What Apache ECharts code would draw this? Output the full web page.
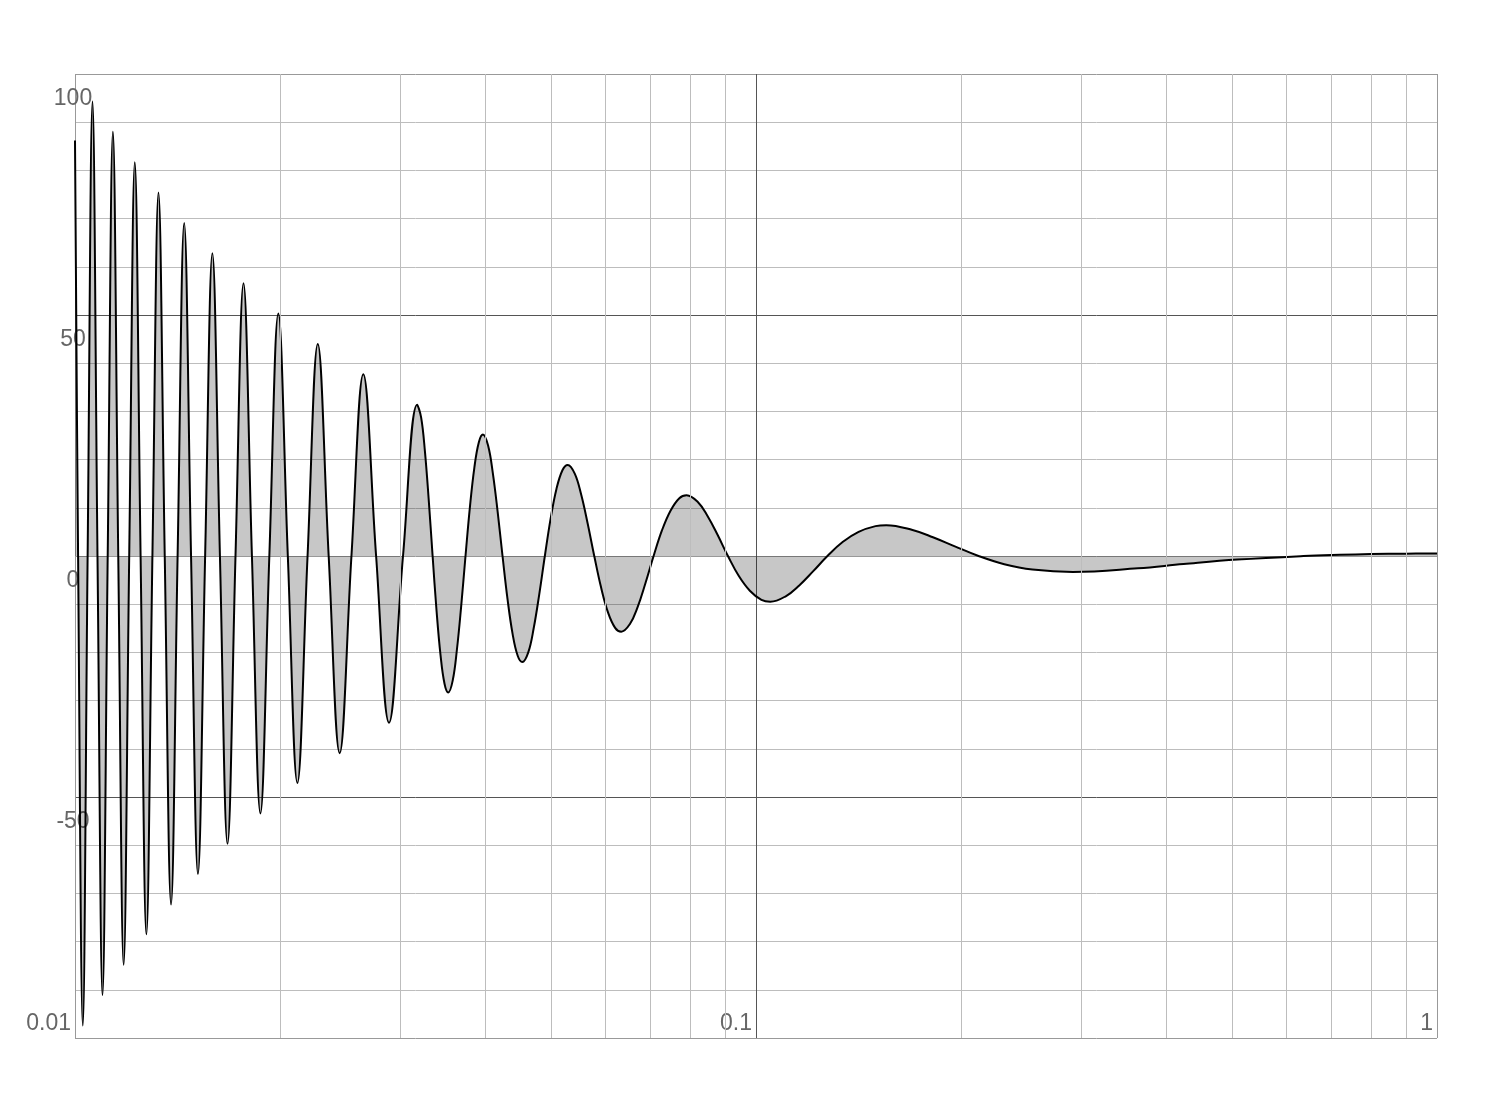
<!DOCTYPE html>
<html>
<head>
<meta charset="utf-8">
<script src="https://cdn.jsdelivr.net/npm/echarts@6/dist/echarts.min.js"></script>
<style>
html,body{margin:0;padding:0;background:#fff;}
#chart{width:1512px;height:1114px;}
</style>
</head>
<body>
<div id="chart"></div>
<script>
// Values: x positions (log axis) and y values of the curve
const curveX = [
  0.01, 0.010105, 0.010267, 0.010436, 0.010609, 0.010790, 0.010975, 0.011169, 0.011367, 0.011575,
  0.011788, 0.012012, 0.012241, 0.012483, 0.012730, 0.012992, 0.013261, 0.013545, 0.013837, 0.014147,
  0.014466, 0.014805, 0.015154, 0.015527, 0.015912, 0.016324, 0.016748, 0.017206, 0.017678, 0.018189,
  0.018718, 0.019292, 0.019886, 0.020536, 0.021211, 0.021953, 0.022725, 0.023578, 0.024471, 0.025465,
  0.026507, 0.027679, 0.028913, 0.030315, 0.031799,
  0.032234, 0.032647, 0.033071, 0.033506, 0.033953, 0.034412, 0.034883, 0.035324,
  0.035866, 0.036378, 0.036905, 0.037448, 0.038007, 0.038583, 0.039176, 0.039726,
  0.040420, 0.041072, 0.041745, 0.042441, 0.043161, 0.043905, 0.044675, 0.045379,
  0.046300, 0.047157, 0.048047, 0.048971, 0.049931, 0.050930, 0.051969, 0.052903,
  0.054181, 0.055359, 0.056589, 0.057874, 0.059220, 0.060630, 0.062109, 0.063407,
  0.065294, 0.067013, 0.068823, 0.070736, 0.072757, 0.074896, 0.077166, 0.079081,
  0.082144, 0.084883, 0.087810, 0.090946, 0.094314, 0.097942, 0.10186, 0.10494,
  0.11072, 0.11575, 0.12126, 0.12732, 0.13402, 0.14147, 0.14979, 0.15534,
  0.16977, 0.18189, 0.19588, 0.21221, 0.23150, 0.25465, 0.29192,
  0.36378, 0.42441, 0.50930, 0.63662, 0.72, 0.8, 0.9, 1
];
const curveY = [
  86.2, 0, -97.4, 0, 94.3, 0, -91.1, 0, 88.0, 0,
  -84.8, 0, 81.7, 0, -78.5, 0, 75.4, 0, -72.3, 0,
  69.1, 0, -66.0, 0, 62.8, 0, -59.7, 0, 56.6, 0,
  -53.4, 0, 50.3, 0, -47.1, 0, 44.0, 0, -40.9, 0,
  37.7, 0, -34.6, 0, 31.4,
  28.7, 21.7, 11.6, 0, -11.3, -20.5, -26.5, -28.3,
  -25.8, -19.4, -10.4, 0, 10.1, 18.3, 23.6, 25.2,
  22.9, 17.2, 9.2, 0, -8.9, -16.1, -20.7, -22.0,
  -20.0, -15.0, -8.0, 0, 7.7, 13.9, 17.8, 18.9,
  17.1, 12.8, 6.8, 0, -6.5, -11.7, -14.9, -15.7,
  -14.1, -10.6, -5.6, 0, 5.3, 9.4, 12.0, 12.6,
  11.2, 8.3, 4.4, 0, -4.1, -7.2, -9.1, -9.5,
  -8.3, -6.1, -3.2, 0, 2.9, 5.0, 6.2, 6.4,
  5.4, 3.9, 2.0, 0, -1.7, -2.8, -3.3,
  -2.54, -1.67, -0.75, 0, 0.25, 0.39, 0.49, 0.54
];
const xMinorGrid = [0.02, 0.03, 0.04, 0.05, 0.06, 0.07, 0.08, 0.09, 0.2, 0.3, 0.4, 0.5, 0.6, 0.7, 0.8, 0.9];
const yLabelValues = [100, 50, 0, -50];

const seriesData = curveX.map((x, i) => [x, curveY[i]]);

const chart = echarts.init(document.getElementById('chart'), null, {renderer: 'canvas'});
const labelFont = 'Liberation Sans, Arial, Helvetica, sans-serif';
chart.setOption({
  animation: false,
  backgroundColor: '#ffffff',
  grid: {left: 75, right: 75, top: 74, bottom: 76, containLabel: false},
  xAxis: {
    type: 'log', logBase: 10, min: 0.01, max: 1,
    axisLine: {show: false},
    axisTick: {show: false},
    splitLine: {show: true, lineStyle: {color: ['#999999', '#555555', '#999999'], width: 1}},
    axisLabel: {
      color: '#666666', fontSize: 23, fontFamily: labelFont,
      align: 'right', verticalAlign: 'middle', margin: -14, padding: [0, 4, 0, 0],
      formatter: v => String(v)
    }
  },
  yAxis: {
    type: 'value', min: -100, max: 100, interval: 50,
    axisLine: {show: false},
    axisTick: {show: false},
    splitLine: {show: true, lineStyle: {color: ['#999999', '#555555', '#999999', '#555555', '#999999'], width: 1}},
    minorTick: {show: false, splitNumber: 5},
    minorSplitLine: {show: true, lineStyle: {color: '#bdbdbd', width: 1}},
    axisLabel: {
      showMinLabel: false,
      color: '#666666', fontSize: 23, fontFamily: labelFont,
      align: 'center', verticalAlign: 'top', margin: 2, padding: [13, 0, 0, 0],
      formatter: v => yLabelValues.indexOf(v) >= 0 ? String(v) : ''
    }
  },
  series: [
    {
      type: 'line', z: 1, data: [], silent: true,
      markLine: {
        silent: true, symbol: ['none', 'none'], animation: false,
        label: {show: false},
        lineStyle: {color: '#bdbdbd', width: 1, type: 'solid'},
        emphasis: {disabled: true},
        data: xMinorGrid.map(v => ({xAxis: v}))
      }
    },
    {
      type: 'line', z: 3, data: seriesData, smooth: 0.4, showSymbol: false, symbol: 'none',
      lineStyle: {color: '#000000', width: 2},
      areaStyle: {color: '#000000', opacity: 0.22},
      clip: true
    }
  ]
});
</script>
</body>
</html>
